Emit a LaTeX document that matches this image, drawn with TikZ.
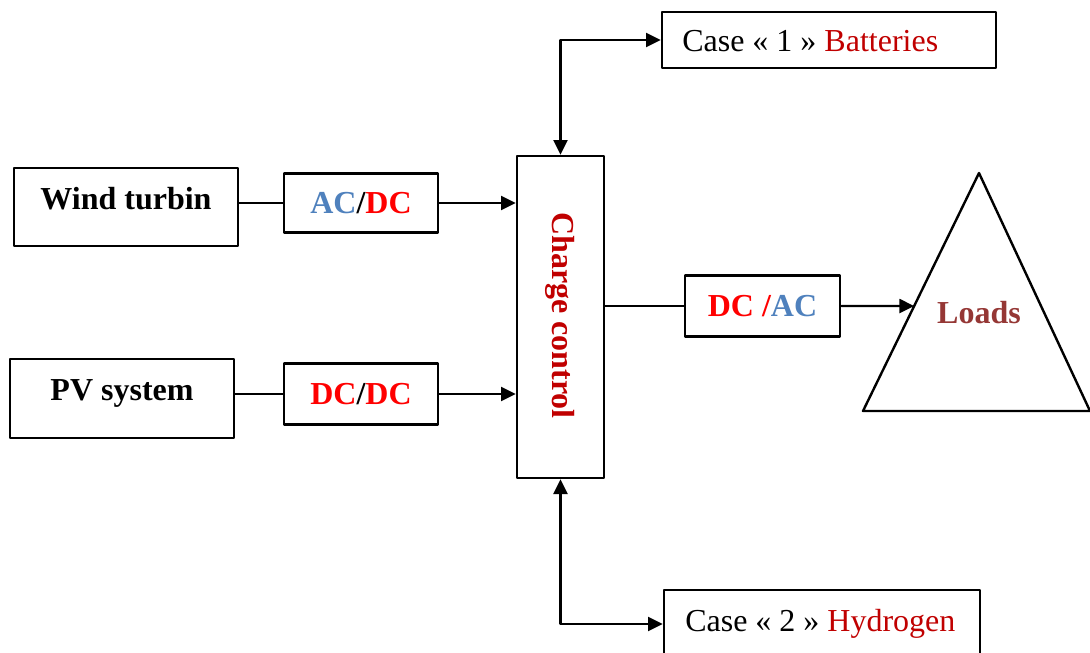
\documentclass[tikz,border=0pt]{standalone}
\usepackage{fontspec}
\setmainfont{Liberation Serif}
\usetikzlibrary{arrows.meta,calc}
\definecolor{acblue}{HTML}{4F81BD}
\definecolor{dcred}{HTML}{FF0000}
\definecolor{casered}{HTML}{C00000}
\definecolor{loadbrown}{HTML}{953735}
\tikzset{
  px size/.store in=\Px,
  px size=0.75pt,
  box/.style={draw, line width=2pt, inner sep=0pt},
  lbl/.style={font=\fontsize{24}{28}\selectfont, inner sep=0pt},
  bold lbl/.style={font=\fontsize{24}{28}\selectfont\bfseries, inner sep=0pt},
  link/.style={line width=1.6pt},
  flow/.style={link, ->}
}

\begin{document}
\begin{tikzpicture}[x=0.75pt, y=-0.75pt, line cap=round, line join=round,
    >={Triangle[length=11pt, width=10.5pt]}]
  \useasboundingbox (0,0) rectangle (1090,653);

  % Sources and their converters
  \node[box, minimum width=224*\Px, minimum height=78*\Px] (wind) at (126,207) {};
  \node[bold lbl] (wind-lbl) at (126,199) {Wind turbin};
  \node[box, bold lbl, minimum width=154*\Px, minimum height=59*\Px] (acdc) at (361,203)
    {\textcolor{acblue}{AC}/\textcolor{dcred}{DC}};

  \node[box, minimum width=224*\Px, minimum height=79*\Px] (pv) at (122,398.5) {};
  \node[bold lbl] (pv-lbl) at (122,393.5) {PV system};
  \node[box, bold lbl, minimum width=154*\Px, minimum height=61*\Px] (dcdc) at (361,394)
    {\textcolor{dcred}{DC}/\textcolor{dcred}{DC}};

  % Charge controller (text runs top to bottom)
  \node[box, minimum width=87*\Px, minimum height=322*\Px] (charge) at (560.5,317) {};
  \node[bold lbl, text=casered, rotate=-90] (charge-lbl) at (560.5,315.5) {Charge control};

  % Inverter and loads
  \node[box, bold lbl, minimum width=155*\Px, minimum height=61*\Px] (dcac) at (762.5,306)
    {\textcolor{dcred}{DC /}\textcolor{acblue}{AC}};
  \coordinate (ld-top) at (979,173);
  \coordinate (ld-left) at (863,411);
  \coordinate (ld-right) at (1090,411);
  \draw[line width=1.8pt] (ld-top) -- (ld-left) -- (ld-right) -- cycle;
  \node[bold lbl, text=loadbrown] (loads) at (979,313) {Loads};
  \coordinate (ld-in) at ($(ld-left)!0.441!(ld-top)$);

  % Storage cases
  \node[box, minimum width=334*\Px, minimum height=56*\Px] (bat) at (829,40) {};
  \node[lbl, anchor=west] (bat-lbl) at (682,41) {Case « 1 » \textcolor{casered}{Batteries}};
  \node[box, minimum width=316*\Px, minimum height=68*\Px] (hyd) at (822,624) {};
  \node[lbl, anchor=west] (hyd-lbl) at (685,623.5) {Case « 2 » \textcolor{casered}{Hydrogen}};

  % Connections
  \draw[link] (wind.east |- acdc) -- (acdc.west);
  \draw[flow] (acdc.east) -- (acdc.east -| charge.west);
  \draw[link] (pv.east |- dcdc) -- (dcdc.west);
  \draw[flow] (dcdc.east) -- (dcdc.east -| charge.west);
  \draw[link] (charge.east |- dcac) -- (dcac.west);
  \draw[flow] (dcac.east) -- (ld-in);
  \draw[link, <->] (charge.north) |- (bat.west);
  \draw[link, <->] (charge.south) |- (hyd.west);
\end{tikzpicture}
\end{document}
